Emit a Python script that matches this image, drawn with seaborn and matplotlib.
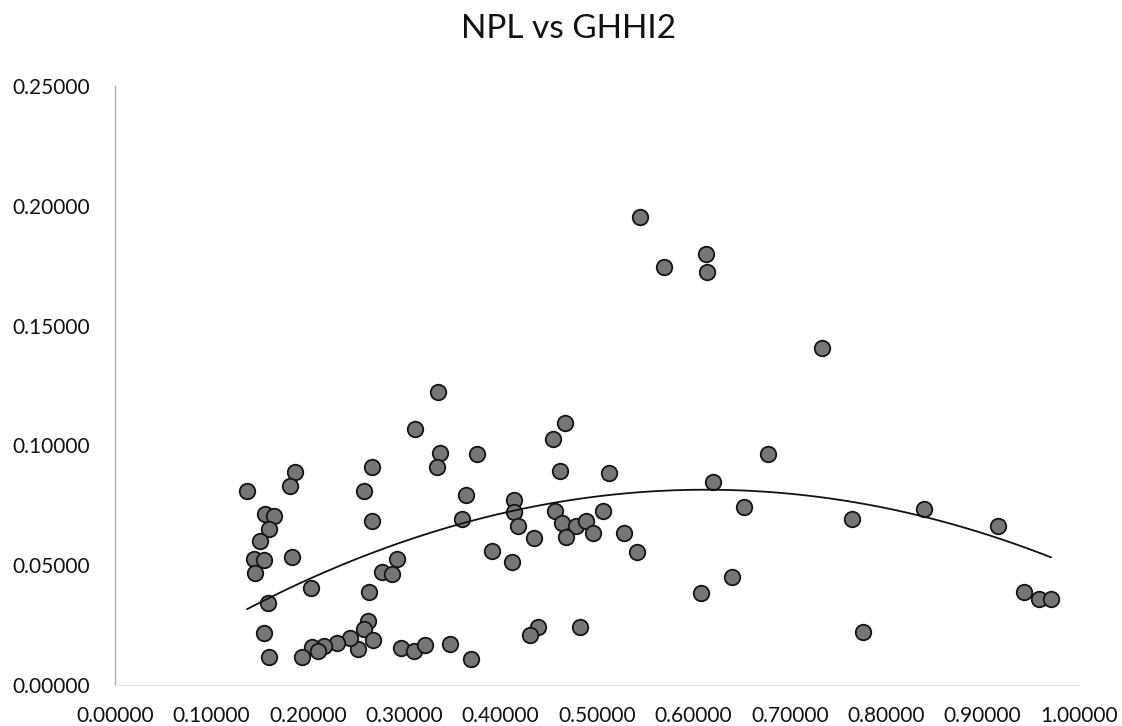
import matplotlib
matplotlib.use("Agg")
import matplotlib.pyplot as plt
import seaborn as sns
import pandas as pd
from matplotlib.ticker import FormatStrFormatter

# GHHI2 (x) against NPL ratio (y)
ghhi2 = [
    0.311, 0.267, 0.187, 0.182, 0.137, 0.258, 0.156, 0.165, 0.267, 0.160,
    0.150, 0.144, 0.155, 0.184, 0.145, 0.293, 0.277, 0.287, 0.203, 0.159,
    0.263, 0.262, 0.258, 0.268, 0.252, 0.244, 0.230, 0.217, 0.204, 0.194,
    0.155, 0.160, 0.211, 0.297, 0.310, 0.322, 0.348, 0.369,
    0.335, 0.337, 0.334, 0.375, 0.467, 0.454, 0.462, 0.512, 0.364, 0.360,
    0.414, 0.414, 0.418, 0.435, 0.391, 0.412, 0.456, 0.464, 0.478, 0.489,
    0.496, 0.468, 0.506, 0.528, 0.541, 0.439, 0.431, 0.482,
    0.545, 0.570, 0.613, 0.614, 0.733,
    0.677, 0.620, 0.652, 0.765, 0.839, 0.916, 0.640, 0.608, 0.776, 0.943,
    0.959, 0.971,
]
npl = [
    0.1067, 0.0911, 0.0890, 0.0831, 0.0811, 0.0810, 0.0712, 0.0705, 0.0686, 0.0650,
    0.0601, 0.0526, 0.0522, 0.0536, 0.0466, 0.0526, 0.0470, 0.0463, 0.0403, 0.0341,
    0.0387, 0.0268, 0.0232, 0.0188, 0.0152, 0.0195, 0.0177, 0.0164, 0.0160, 0.0118,
    0.0216, 0.0118, 0.0143, 0.0156, 0.0143, 0.0167, 0.0170, 0.0110,
    0.1224, 0.0967, 0.0909, 0.0965, 0.1095, 0.1025, 0.0893, 0.0886, 0.0794, 0.0692,
    0.0772, 0.0723, 0.0664, 0.0615, 0.0561, 0.0512, 0.0726, 0.0675, 0.0665, 0.0686,
    0.0636, 0.0616, 0.0726, 0.0633, 0.0556, 0.0243, 0.0209, 0.0243,
    0.1954, 0.1746, 0.1799, 0.1724, 0.1405,
    0.0964, 0.0849, 0.0744, 0.0691, 0.0733, 0.0664, 0.0449, 0.0383, 0.0223, 0.0389,
    0.0359, 0.0359,
]

title = "NPL vs GHHI2"
x_ticks = [0.0, 0.1, 0.2, 0.3, 0.4, 0.5, 0.6, 0.7, 0.8, 0.9, 1.0]
y_ticks = [0.0, 0.05, 0.10, 0.15, 0.20, 0.25]

df = pd.DataFrame({"GHHI2": ghhi2, "NPL": npl})

sns.set_theme(style="white")
plt.rcParams["font.family"] = ["Lato", "DejaVu Sans"]

W, H = 1122, 726
fig = plt.figure(figsize=(W / 100, H / 100), dpi=100)
fig.patch.set_facecolor("white")
ax = fig.add_axes([115 / W, 1 - 685 / H, 964 / W, (685 - 86) / H])

sns.scatterplot(data=df, x="GHHI2", y="NPL", ax=ax, s=125,
                color="#767676", edgecolor="#141414", linewidth=1.3,
                zorder=3)
sns.regplot(data=df, x="GHHI2", y="NPL", ax=ax, order=2, ci=None,
            scatter=False, truncate=True,
            line_kws={"color": "#111111", "linewidth": 1.3, "zorder": 4})

ax.set_xlim(0, 1)
ax.set_ylim(0, 0.25)
ax.set_xticks(x_ticks)
ax.set_yticks(y_ticks)
ax.xaxis.set_major_formatter(FormatStrFormatter("%.5f"))
ax.yaxis.set_major_formatter(FormatStrFormatter("%.5f"))
ax.tick_params(axis="both", length=0, labelsize=15, colors="#111111")
ax.tick_params(axis="y", pad=18)
ax.tick_params(axis="x", pad=15)
ax.set_xlabel("")
ax.set_ylabel("")
ax.grid(False)

for side in ("top", "right"):
    ax.spines[side].set_visible(False)
ax.spines["left"].set_color("#a8a8a8")
ax.spines["left"].set_linewidth(0.9)
ax.spines["bottom"].set_color("#e2e2e2")
ax.spines["bottom"].set_linewidth(0.8)

fig.text(569 / W, 1 - 29 / H, title, ha="center", va="center",
         fontsize=24, color="#111111")

fig.savefig("out.png", dpi=100, facecolor="white")
